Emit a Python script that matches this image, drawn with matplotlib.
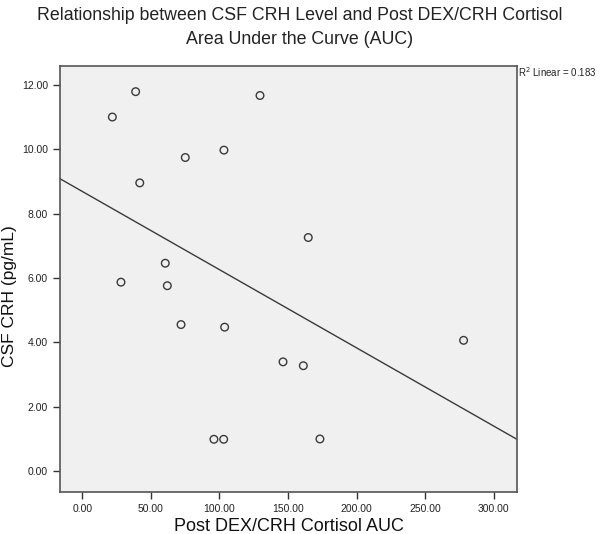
import numpy as np
import matplotlib
matplotlib.use("Agg")
import matplotlib.pyplot as plt

plt.rcParams['font.family'] = ['Liberation Sans', 'DejaVu Sans']

# Post DEX/CRH cortisol AUC vs CSF CRH (pg/mL)
cortisol_auc = [38.9, 21.9, 129.6, 103.3, 75.1, 41.9, 164.8, 60.5, 28.2,
                62.0, 72.0, 103.8, 146.4, 161.2, 96.0, 103.1, 173.3, 278.1]
csf_crh = [11.80, 11.01, 11.68, 9.98, 9.75, 8.96, 7.26, 6.46, 5.87,
           5.76, 4.55, 4.47, 3.39, 3.27, 0.98, 0.98, 0.99, 4.06]
x_ticks = [0, 50, 100, 150, 200, 250, 300]
y_ticks = [0, 2, 4, 6, 8, 10, 12]
r2_text = 'R$^2$ Linear = 0.183'
title_lines = ['Relationship between CSF CRH Level and Post DEX/CRH Cortisol',
               'Area Under the Curve (AUC)']

fig = plt.figure(figsize=(6, 5.34), dpi=100)
ax = fig.add_axes([0.0995, 0.0787, 0.7625, 0.7978])
ax.set_facecolor('#f0f0f0')

xlim = (-16.5, 317.2)
ylim = (-0.66, 12.6)

ax.scatter(cortisol_auc, csf_crh, s=30, facecolors='none',
           edgecolors='#3a3a3a', linewidths=1.0, zorder=3)

# least-squares fit line across the whole axis
slope, intercept = np.polyfit(cortisol_auc, csf_crh, 1)
xs = np.array(xlim)
ax.plot(xs, slope * xs + intercept, color='#3a3a3a', linewidth=1.0, zorder=2)

ax.set_xlim(xlim)
ax.set_ylim(ylim)
ax.set_xticks(x_ticks)
ax.set_yticks(y_ticks)
ax.set_xticklabels([f'{v:.2f}' for v in x_ticks])
ax.set_yticklabels([f'{v:.2f}' for v in y_ticks])
ax.tick_params(direction='out', length=5, width=1, colors='#333333',
               labelsize=7.5, labelcolor='#222222')

for sp in ax.spines.values():
    sp.set_color('#555555')
    sp.set_linewidth(1.2)

ax.set_xlabel('Post DEX/CRH Cortisol AUC', fontsize=13, labelpad=3, color='#111111')
ax.set_ylabel('CSF CRH (pg/mL)', fontsize=12.5, color='#111111')
ax.yaxis.set_label_coords(-0.094, 0.46)

fig.text(0.5, 1 - 20 / 534, title_lines[0], ha='center', va='baseline',
         fontsize=12.8, color='#222222')
fig.text(0.5, 1 - 44 / 534, title_lines[1], ha='center', va='baseline',
         fontsize=12.8, color='#222222')

ax.text(1.002, 0.985, r2_text, transform=ax.transAxes, ha='left', va='center',
        fontsize=7, color='#222222')

fig.savefig('out.png', dpi=100)
